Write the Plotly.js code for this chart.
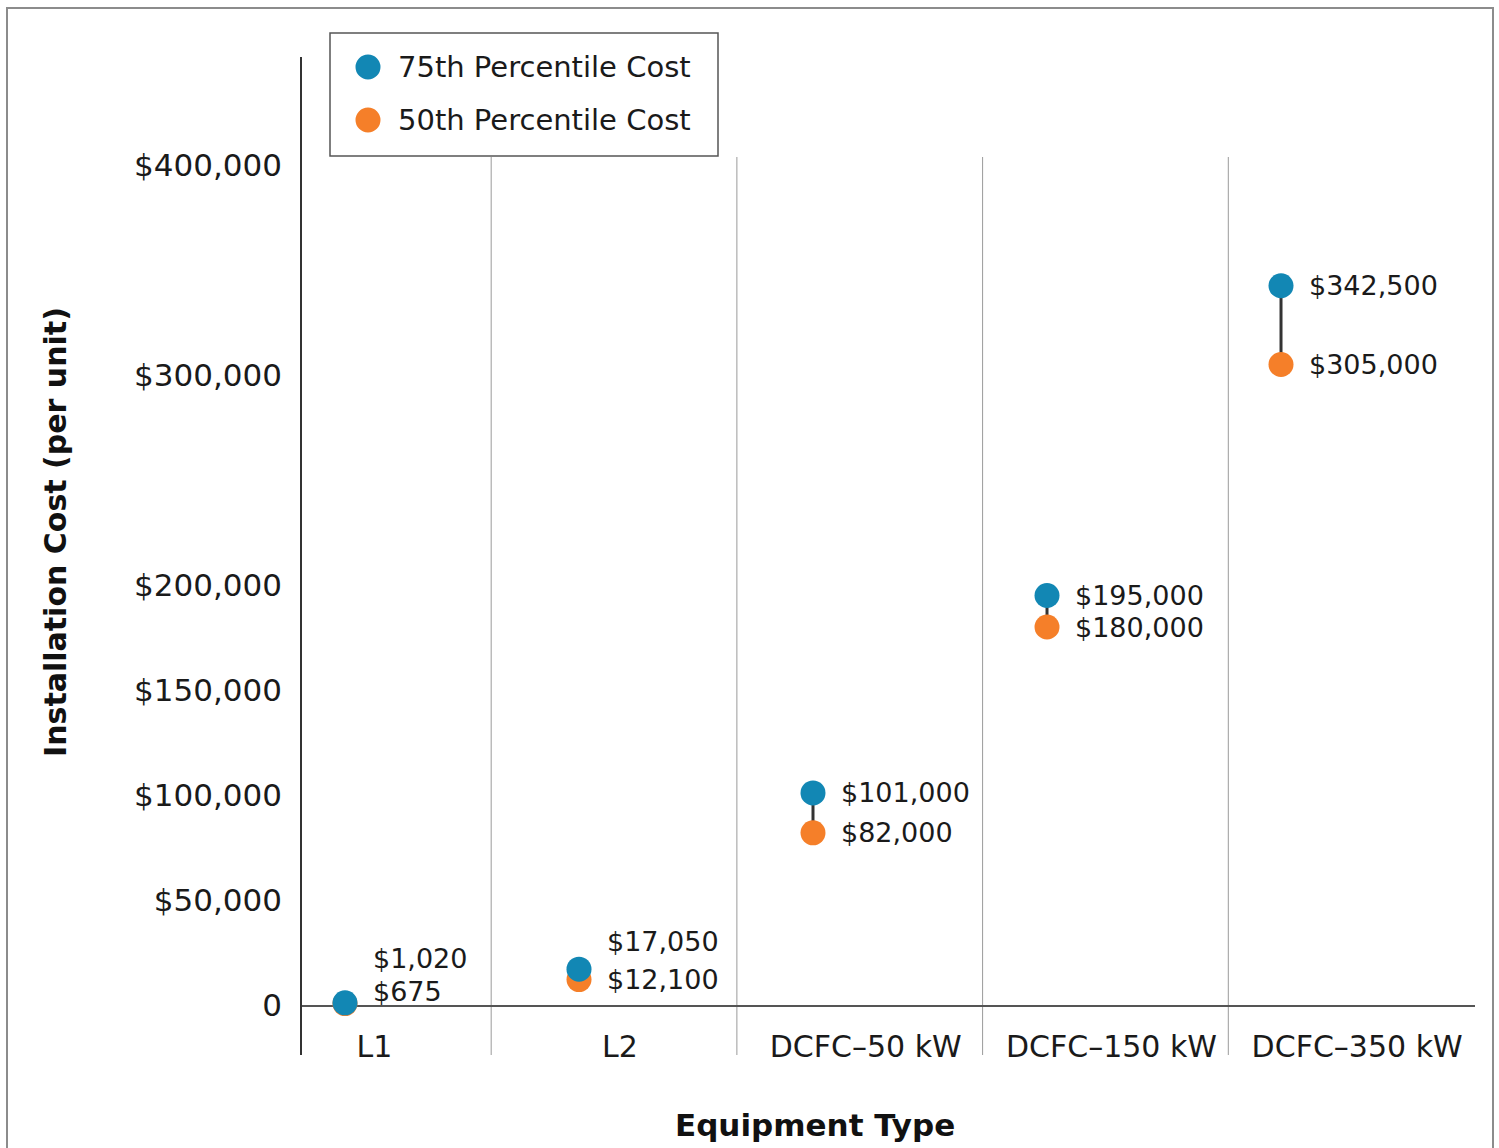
<!DOCTYPE html>
<html><head><meta charset="utf-8">
<script src="https://cdn.plot.ly/plotly-3.0.1.min.js"></script>
<style>
html,body{margin:0;padding:0;background:#fff;overflow:hidden;}
#frame{position:absolute;left:6px;top:7px;width:1488px;height:1200px;border:2px solid #8c8c8c;box-sizing:border-box;}
#chart{position:absolute;left:0;top:0;width:1499px;height:1148px;}
</style></head><body>
<div id="frame"></div><div id="chart"></div>
<script>
// ---- data ----
const categories = ['L1', 'L2', 'DCFC\u201350 kW', 'DCFC\u2013150 kW', 'DCFC\u2013350 kW'];
const cost75 = [1020, 17050, 101000, 195000, 342500];
const cost50 = [675, 12100, 82000, 180000, 305000];
const seriesNames = ['75th Percentile Cost', '50th Percentile Cost'];
const yTickVals = [0, 50000, 100000, 150000, 200000, 300000, 400000];
const yTickText = ['0', '$50,000', '$100,000', '$150,000', '$200,000', '$300,000', '$400,000'];

// ---- style ----
const BLUE = '#1287b4', ORANGE = '#f57f29';
const FONT = 'DejaVu Sans';
const label75Shift = [44, 28, 0, 0, 0];
const label50Shift = [12, 0, 0, 0, 0];

const W = 1499, H = 1148, ML = 301, MR = 24, MT = 157, MB = 143;
const PW = W - ML - MR, PH = H - MT - MB;
const px = x => (x - ML) / PW;
const py = y => (H - MB - y) / PH;
const fmt = v => '$' + v.toLocaleString('en-US');

// connector lines built from the data
const lx = [], ly = [];
categories.forEach((c, i) => { lx.push(c, c, null); ly.push(cost75[i], cost50[i], null); });

const traces = [
  {type: 'scatter', mode: 'lines', x: lx, y: ly, xaxis: 'x2', yaxis: 'y',
   line: {color: '#333333', width: 3}, hoverinfo: 'skip', showlegend: false, cliponaxis: false},
  {type: 'scatter', mode: 'markers', name: seriesNames[1], x: categories, y: cost50, xaxis: 'x2',
   marker: {color: ORANGE, size: 25}, showlegend: false, cliponaxis: false},
  {type: 'scatter', mode: 'markers', name: seriesNames[0], x: categories, y: cost75, xaxis: 'x2',
   marker: {color: BLUE, size: 25}, showlegend: false, cliponaxis: false}
];

const annotations = [];
categories.forEach((c, i) => {
  annotations.push({x: c, y: cost75[i], xref: 'x2', yref: 'y', text: fmt(cost75[i]), showarrow: false,
    xanchor: 'left', yanchor: 'middle', xshift: 26, yshift: label75Shift[i], font: {family: FONT, size: 27, color: '#1a1a1a'}});
  annotations.push({x: c, y: cost50[i], xref: 'x2', yref: 'y', text: fmt(cost50[i]), showarrow: false,
    xanchor: 'left', yanchor: 'middle', xshift: 26, yshift: label50Shift[i], font: {family: FONT, size: 27, color: '#1a1a1a'}});
});
// legend text
[[67, 0], [120, 1]].forEach(([yy, k]) => {
  annotations.push({x: px(396), y: py(yy), xref: 'paper', yref: 'paper', text: seriesNames[k], showarrow: false,
    xanchor: 'left', yanchor: 'middle', font: {family: FONT, size: 29, color: '#1a1a1a'}});
});
// axis titles
annotations.push({x: px(55), y: py(532), xref: 'paper', yref: 'paper', text: '<b>Installation Cost (per unit)</b>',
  textangle: -90, showarrow: false, xanchor: 'center', yanchor: 'middle', font: {family: FONT, size: 30, color: '#111'}});
annotations.push({x: px(815), y: py(1125), xref: 'paper', yref: 'paper', text: '<b>Equipment Type</b>',
  showarrow: false, xanchor: 'center', yanchor: 'middle', font: {family: FONT, size: 31, color: '#111'}});

const shapes = [];
// column separators
for (let i = 0; i < categories.length - 1; i++) {
  shapes.push({type: 'line', xref: 'x', yref: 'paper', x0: i + 0.5, x1: i + 0.5, y0: py(1055), y1: 1,
    line: {color: '#9a9a9a', width: 1}, layer: 'below'});
}
// y axis line
shapes.push({type: 'line', xref: 'paper', yref: 'paper', x0: 0, x1: 0, y0: py(1055), y1: py(57),
  line: {color: '#333333', width: 2}});
// legend box & markers
shapes.push({type: 'rect', xref: 'paper', yref: 'paper', x0: px(330), x1: px(718), y0: py(156), y1: py(33),
  line: {color: '#555555', width: 1.5}, fillcolor: '#ffffff'});
[[67, BLUE], [120, ORANGE]].forEach(([yy, col]) => {
  shapes.push({type: 'circle', xref: 'paper', yref: 'paper', x0: px(368 - 12.5), x1: px(368 + 12.5),
    y0: py(yy + 12.5), y1: py(yy - 12.5), line: {width: 0}, fillcolor: col});
});

const layout = {
  width: W, height: H,
  margin: {l: ML, r: MR, t: MT, b: MB, pad: 0},
  paper_bgcolor: 'rgba(0,0,0,0)', plot_bgcolor: 'rgba(0,0,0,0)',
  font: {family: FONT, size: 28, color: '#1a1a1a'},
  showlegend: false,
  xaxis: {type: 'category', categoryorder: 'array', categoryarray: categories,
    range: [-0.274, 4.504], showgrid: false, zeroline: false, showline: true, linecolor: '#555555', linewidth: 2,
    ticks: '', ticklabelstandoff: 14, ticklabelshift: 6, tickfont: {family: FONT, size: 30, color: '#1a1a1a'},
    fixedrange: true, layer: 'below traces'},
  xaxis2: {type: 'category', categoryorder: 'array', categoryarray: categories, overlaying: 'x', anchor: 'y',
    range: [-0.188, 4.829], visible: false, fixedrange: true},
  yaxis: {range: [0, 403810], tickvals: yTickVals, ticktext: yTickText, showgrid: false, zeroline: false,
    showline: false, ticks: '', ticklabelstandoff: 18, tickfont: {family: FONT, size: 31, color: '#1a1a1a'},
    fixedrange: true},
  shapes: shapes,
  annotations: annotations
};

Plotly.newPlot('chart', traces, layout, {displayModeBar: false, staticPlot: true});
</script></body></html>
